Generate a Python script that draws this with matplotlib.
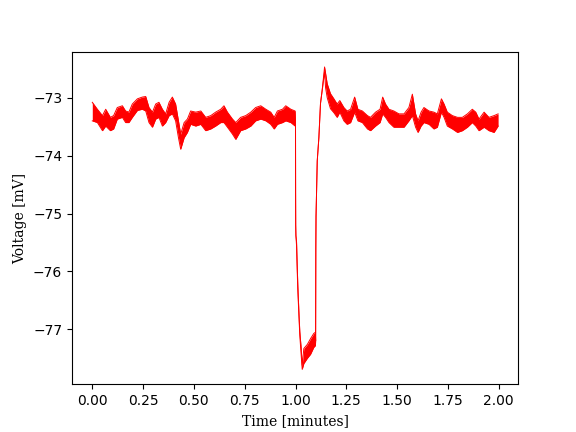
import numpy as np
import matplotlib
matplotlib.use("Agg")
import matplotlib.pyplot as plt

# Tempo (minutos) e envelope do sinal (mV)
t = [0.000, 0.025, 0.050, 0.066, 0.089, 0.105, 0.123, 0.148, 0.164, 0.180,
     0.197, 0.222, 0.246, 0.263, 0.279, 0.296, 0.312, 0.328, 0.345, 0.361,
     0.378, 0.394, 0.410, 0.424, 0.435, 0.452, 0.468, 0.484, 0.509, 0.534,
     0.558, 0.583, 0.607, 0.632, 0.648, 0.665, 0.690, 0.706, 0.730, 0.755,
     0.780, 0.804, 0.829, 0.854, 0.878, 0.895, 0.911, 0.936, 0.952, 0.977,
     0.998,
     # queda
     1.0000, 1.0005, 1.0010, 1.0020, 1.0050, 1.0110, 1.0160, 1.0210, 1.0280, 1.0330,
     # fundo
     1.041, 1.058, 1.074, 1.090, 1.098,
     # subida
     1.0990, 1.1000, 1.1010, 1.1070, 1.1150, 1.1230, 1.1310, 1.1430,
     # depois do pico
     1.148, 1.156, 1.172, 1.189, 1.205, 1.218, 1.238, 1.254, 1.271, 1.291,
     1.307, 1.329, 1.354, 1.369, 1.394, 1.416, 1.429, 1.443, 1.460, 1.484,
     1.509, 1.534, 1.558, 1.575, 1.591, 1.603, 1.618, 1.632, 1.657, 1.681,
     1.698, 1.718, 1.731, 1.747, 1.772, 1.797, 1.821, 1.846, 1.870, 1.887,
     1.903, 1.928, 1.952, 1.977, 1.997]

v_hi = [-73.08, -73.20, -73.31, -73.20, -73.34, -73.31, -73.17, -73.14, -73.23, -73.25,
        -73.11, -73.02, -72.99, -72.98, -73.17, -73.25, -73.11, -73.08, -73.20, -73.28,
        -73.08, -72.99, -73.11, -73.40, -73.63, -73.43, -73.37, -73.23, -73.25, -73.23,
        -73.34, -73.31, -73.25, -73.20, -73.14, -73.25, -73.37, -73.43, -73.34, -73.31,
        -73.25, -73.17, -73.14, -73.20, -73.25, -73.34, -73.23, -73.20, -73.14, -73.20,
        -73.23,
        -73.40, -74.65, -75.20, -75.38, -75.48, -76.20, -76.64, -77.03, -77.33, -77.62,
        -77.33, -77.26, -77.16, -77.07, -77.05,
        -77.20, -75.60, -75.05, -74.09, -73.69, -73.10, -72.88, -72.47,
        -72.58, -72.76, -72.93, -73.02, -73.11, -73.05, -73.17, -73.23, -73.20, -72.99,
        -73.20, -73.23, -73.31, -73.34, -73.25, -73.20, -72.99, -73.11, -73.20, -73.23,
        -73.28, -73.28, -73.17, -72.94, -73.28, -73.40, -73.25, -73.17, -73.23, -73.25,
        -73.28, -73.02, -73.11, -73.25, -73.31, -73.34, -73.34, -73.28, -73.20, -73.25,
        -73.37, -73.25, -73.34, -73.31, -73.28]

v_lo = [-73.40, -73.43, -73.57, -73.49, -73.57, -73.54, -73.37, -73.34, -73.43, -73.43,
        -73.34, -73.22, -73.20, -73.23, -73.43, -73.51, -73.37, -73.34, -73.49, -73.43,
        -73.31, -73.28, -73.40, -73.69, -73.89, -73.69, -73.60, -73.46, -73.49, -73.46,
        -73.57, -73.54, -73.49, -73.43, -73.43, -73.51, -73.63, -73.72, -73.57, -73.54,
        -73.49, -73.40, -73.37, -73.40, -73.46, -73.54, -73.46, -73.43, -73.40, -73.43,
        -73.49,
        -73.40, -74.65, -75.20, -75.38, -75.55, -76.30, -76.70, -77.10, -77.45, -77.69,
        -77.59, -77.50, -77.43, -77.31, -77.28,
        -77.20, -75.60, -75.05, -74.09, -73.69, -73.10, -72.88, -72.55,
        -72.83, -73.00, -73.19, -73.26, -73.34, -73.25, -73.40, -73.46, -73.43, -73.25,
        -73.40, -73.43, -73.54, -73.57, -73.49, -73.43, -73.28, -73.34, -73.43, -73.51,
        -73.51, -73.51, -73.40, -73.31, -73.51, -73.60, -73.49, -73.43, -73.46, -73.54,
        -73.51, -73.25, -73.34, -73.49, -73.54, -73.60, -73.57, -73.51, -73.43, -73.49,
        -73.57, -73.51, -73.57, -73.60, -73.49]

t = np.array(t)
v_hi = np.array(v_hi)
v_lo = np.array(v_lo)

fig, ax = plt.subplots(figsize=(5.76, 4.32), dpi=100)
ax.fill_between(t, v_lo, v_hi, color="red", linewidth=0)
ax.plot(t, v_hi, color="red", linewidth=0.7)
ax.plot(t, v_lo, color="red", linewidth=0.7)

ax.set_xlabel("Time [minutes]", family="DejaVu Serif")
ax.set_ylabel("Voltage [mV]", family="DejaVu Serif")
ax.set_xticks([0.0, 0.25, 0.5, 0.75, 1.0, 1.25, 1.5, 1.75, 2.0])
ax.set_yticks([-77, -76, -75, -74, -73])

fig.savefig("out.png", dpi=100)
